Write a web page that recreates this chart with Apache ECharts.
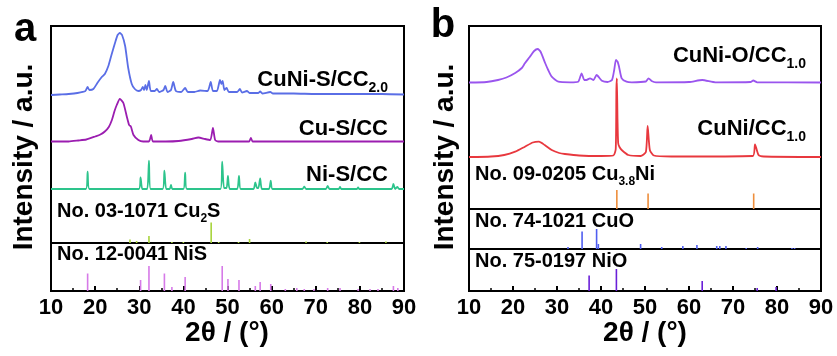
<!DOCTYPE html>
<html>
<head>
<meta charset="utf-8">
<script src="https://cdn.jsdelivr.net/npm/echarts@6/dist/echarts.min.js"></script>
<style>
  html, body { margin: 0; padding: 0; background: #fff; }
  #chart { width: 837px; height: 356px; }
</style>
</head>
<body>
<div id="chart"></div>
<script>
// x range, 2theta in degrees
const thetaMin = 10;
const thetaMax = 90;
const thetaStep = 10;

// ---- panel a, traces (2theta, stacked intensity) ----
const cuniS = [[10,148],[12,148.5],[14,149],[16,150],[17.8,152],[18.3,156],[18.7,153],[19.6,154],[20.5,160],[21.5,166],[22.2,169],[23.0,177],[23.7,188],[24.5,200],[25.1,208],[25.6,210],[26.1,208],[26.8,197],[27.5,175],[28.3,159],[29.0,154],[29.8,152],[30.4,153],[30.8,156],[31.1,153],[31.4,158],[31.7,153],[32.2,162],[32.6,152],[33.5,152],[34.0,154],[34.5,151],[35.5,153],[35.9,157],[36.4,151],[37.2,153],[37.7,161],[38.3,152],[39.5,151],[40.4,155],[41.0,151],[42.5,151],[43.8,152.5],[45.5,152],[46.2,161],[46.7,152],[47.6,152],[48.3,163],[48.6,159],[48.9,162],[49.3,153],[49.8,155],[50.3,151],[52.2,151],[52.8,154],[53.3,150.5],[54.4,152],[55,150],[57,150],[57.4,151.5],[57.9,149.5],[59.7,151],[60.3,149.5],[65,149.5],[70,149],[75,149],[80,149],[85,149],[90,148.5]];
const cuS = [[10,101.5],[14,101.5],[16.2,102.5],[18,103.5],[20.0,106.5],[21.2,108.5],[22.2,111.5],[23.1,116],[23.8,123],[24.4,132],[24.9,138],[25.6,144],[26.4,140],[27.2,126],[27.7,118],[28.1,116.5],[28.7,108],[29.8,103],[30.9,101.5],[32.2,101.5],[32.7,108],[33.1,101.5],[36,101.5],[38.9,102],[41.9,104],[43.4,105.5],[44.9,104],[46.1,103],[46.7,115],[47.2,103],[47.9,101.5],[52,101.5],[54.9,101.5],[55.3,105],[55.7,101.5],[60,101.5],[70,101.5],[80,101.5],[90,101.5]];
const niS = [[10,54],[17.9,54],[18.3,71.3],[18.7,54],[29.9,54],[30.3,65.7],[30.7,54],[31.8,54],[32.2,82.3],[32.6,54],[35.3,54],[35.7,72.3],[36.1,54],[36.9,54],[37.2,58],[37.5,54],[40.0,54],[40.4,70.3],[40.8,54],[48.4,54],[48.8,81.3],[49.2,55],[49.8,55],[50.1,67],[50.5,54],[52.2,54],[52.6,67],[53.0,54],[55.9,54],[56.3,60.7],[56.7,55],[57.0,55],[57.4,64.7],[57.8,54],[59.4,54],[59.8,62.3],[60.2,54],[67.0,54],[67.4,56.3],[67.8,54],[72.3,54],[72.7,57],[73.1,54],[75.2,54],[75.5,56],[75.8,54],[79.3,54],[79.6,55.5],[79.9,54],[87.2,54],[87.6,59],[88.0,54],[88.5,56],[88.9,54],[90,54]];

// reference sticks, panel a
const cu2sRef = [[27.9,3.5],[29.4,2],[32.2,7],[37.4,1],[40.0,1],[46.3,20.5],[48.0,1],[52.5,1],[55.0,4],[67.8,1.5],[72.6,1],[79.9,1],[85.9,1.5]];
const nisRef = [[18.3,17.5],[30.3,11],[32.2,25],[35.7,17.5],[37.4,4],[40.4,14],[48.8,25],[50.1,12],[52.6,11],[56.3,5],[57.4,9],[59.8,7],[63.1,2],[65.7,3],[67.4,2],[69.6,2],[72.7,3],[75.5,3],[79.6,2],[82.3,2],[84.1,2],[87.6,5],[88.6,3]];

// ---- panel b ----
const cuniO = [[10,126.5],[14,127],[16.6,129],[18.5,131.5],[20.5,136],[22.0,141],[22.7,145.7],[23.8,152],[24.8,158],[25.6,160],[26.3,157],[27.3,146],[28.0,139],[28.8,132.3],[30.3,127.3],[33,126.7],[34.8,127.3],[35.6,135.7],[36.2,129],[36.7,129],[37.5,130.7],[38.3,129],[39.0,134],[40.2,128.3],[41.5,127],[42.5,129],[43.0,139],[43.4,149],[43.8,147],[44.1,142.3],[44.7,130.7],[45.8,127.3],[47,126.7],[50.2,127.5],[50.8,130.7],[51.5,128],[52.5,126.7],[60,127],[63.0,129],[66,126.7],[74.0,127],[74.6,128.5],[75.5,126.7],[90,126.5]];
const cuni = [[10,52],[15,52.5],[18,54],[20.5,57.3],[22.7,62.3],[24.5,66.5],[25.9,67.3],[27.2,64],[28.8,59],[30.5,56],[31.8,55],[35,53.5],[40,53],[42.8,53.5],[43.35,60],[43.5,120],[43.6,130.7],[43.75,90],[43.9,66],[44.2,62],[44.7,59],[46.2,54],[49,53],[50.2,57],[50.6,83],[51.1,59],[52,53.5],[56,52.5],[74.5,53],[75.0,64.7],[75.8,54],[77,52.5],[90,52]];

const cu38niRef = [[43.6,19],[50.7,15.5],[74.7,15.5]];
const cuoRef = [[32.5,2],[35.7,17.5],[39.0,20],[39.4,5],[49.0,5],[53.8,2],[58.6,3],[61.8,4],[66.3,3],[67.0,3],[68.4,3],[73.0,1],[75.6,2],[83.4,1],[84.0,1]];
const nioRef = [[37.3,15.5],[43.5,22],[63.0,10],[75.5,3],[79.8,4]];

const FONT = "'Liberation Sans', Arial, sans-serif";

const chart = echarts.init(document.getElementById("chart"));

// one grid per stacked box
const grids = [
  { left: 51, top: 26, width: 353, height: 217 },
  { left: 51, top: 243, width: 353, height: 48 },
  { left: 469, top: 26, width: 352, height: 183 },
  { left: 469, top: 209, width: 352, height: 40 },
  { left: 469, top: 249, width: 352, height: 42 },
];
const yMax = [217, 48, 183, 40, 42];
const withLabels = [false, true, false, false, true];

const xAxes = grids.map((g, i) => ({
  type: "value",
  gridIndex: i,
  min: thetaMin,
  max: thetaMax,
  interval: thetaStep,
  axisLine: { show: withLabels[i], lineStyle: { color: "#000", width: 2 } },
  axisTick: { show: withLabels[i], inside: true, length: 5, lineStyle: { color: "#000", width: 2 } },
  minorTick: { show: withLabels[i], splitNumber: 2, length: 3, lineStyle: { color: "#000", width: 1.5 } },
  axisLabel: {
    show: withLabels[i],
    margin: 6,
    color: "#000",
    fontSize: 22,
    fontWeight: "bold",
    fontFamily: FONT,
    showMinLabel: true,
    showMaxLabel: true,
  },
  splitLine: { show: false },
}));

const yAxes = grids.map((g, i) => ({
  type: "value",
  gridIndex: i,
  min: 0,
  max: yMax[i],
  show: false,
  splitLine: { show: false },
}));

const trace = (data, color, gi) => ({
  type: "line",
  xAxisIndex: gi,
  yAxisIndex: gi,
  data: data,
  showSymbol: false,
  smooth: 0.2,
  lineStyle: { color: color, width: 1.8 },
  silent: true,
});

const sticks = (data, color, gi) => ({
  type: "bar",
  xAxisIndex: gi,
  yAxisIndex: gi,
  data: data,
  barWidth: 1.6,
  itemStyle: { color: color },
  silent: true,
});

// text with an optional subscript and tail, e.g. Cu{2}S
const label = (x, y, main, sub, tail, size, align) => {
  let text = "{m|" + main + "}";
  if (sub) text += "{s|" + sub + "}";
  if (tail) text += "{m|" + tail + "}";
  return {
    type: "text",
    x: x,
    y: y,
    style: {
      text: text,
      align: align,
      verticalAlign: "middle",
      rich: {
        m: { fontSize: size, fontWeight: "bold", fontFamily: FONT, fill: "#000" },
        s: { fontSize: Math.round(size * 0.62), fontWeight: "bold", fontFamily: FONT, fill: "#000", padding: [size * 0.75, 0, 0, 0] },
      },
    },
  };
};

const plainText = (x, y, text, size, rotation) => ({
  type: "text",
  x: x,
  y: y,
  rotation: rotation || 0,
  style: {
    text: text,
    fontSize: size,
    fontWeight: "bold",
    fontFamily: FONT,
    fill: "#000",
    align: "center",
    verticalAlign: "middle",
  },
});

chart.setOption({
  animation: false,
  backgroundColor: "#fff",
  grid: grids.map((g) => ({ ...g, show: true, borderColor: "#000", borderWidth: 2, backgroundColor: "transparent" })),
  xAxis: xAxes,
  yAxis: yAxes,
  series: [
    trace(cuniS, "#5a6ee6", 0),
    trace(cuS, "#9b1db0", 0),
    trace(niS, "#2dc48c", 0),
    sticks(cu2sRef, "#a8d43c", 0),
    sticks(nisRef, "#d67ae8", 1),
    trace(cuniO, "#9a55ee", 2),
    trace(cuni, "#e8383e", 2),
    sticks(cu38niRef, "#ee8e3c", 2),
    sticks(cuoRef, "#4f5ef0", 3),
    sticks(nioRef, "#6a1fd8", 4),
  ],
  graphic: [
    plainText(25, 30, "a", 40),
    plainText(443, 26, "b", 40),
    plainText(24, 157, "Intensity / a.u.", 28, Math.PI / 2),
    plainText(445, 157, "Intensity / a.u.", 28, Math.PI / 2),
    plainText(227, 333, "2θ / (°)", 28),
    plainText(645, 333, "2θ / (°)", 28),
    label(388, 80, "CuNi-S/CC", "2.0", null, 22, "right"),
    label(388, 129, "Cu-S/CC", null, null, 22, "right"),
    label(388, 175, "Ni-S/CC", null, null, 22, "right"),
    label(57, 211, "No. 03-1071 Cu", "2", "S", 20, "left"),
    label(57, 254, "No. 12-0041 NiS", null, null, 20, "left"),
    label(806, 56, "CuNi-O/CC", "1.0", null, 22, "right"),
    label(806, 129, "CuNi/CC", "1.0", null, 22, "right"),
    label(475, 174, "No. 09-0205 Cu", "3.8", "Ni", 20, "left"),
    label(475, 221, "No. 74-1021 CuO", null, null, 20, "left"),
    label(475, 261, "No. 75-0197 NiO", null, null, 20, "left"),
  ],
});
</script>
</body>
</html>
